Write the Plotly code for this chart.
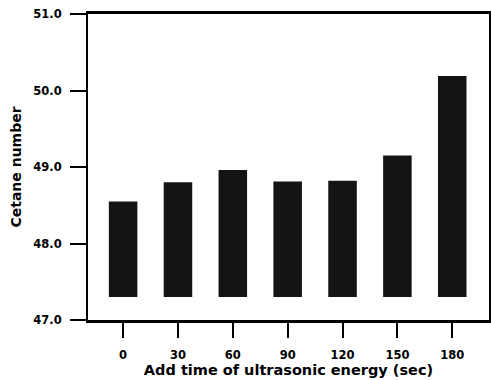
import plotly.graph_objects as go

categories = ["0", "30", "60", "90", "120", "150", "180"]
cetane = [48.55, 48.80, 48.96, 48.81, 48.82, 49.15, 50.19]
bar_base = 47.3
y_ticks = [47.0, 48.0, 49.0, 50.0, 51.0]
y_tick_text = ["<b>47.0</b>", "<b>48.0</b>", "<b>49.0</b>", "<b>50.0</b>", "<b>51.0</b>"]
x_tick_text = ["<b>" + c + "</b>" for c in categories]

FONT = "DejaVu Sans"

fig = go.Figure(
    go.Bar(
        x=categories,
        y=[v - bar_base for v in cetane],
        base=bar_base,
        width=0.52,
        marker=dict(color="#141414", line=dict(width=0)),
    )
)

fig.update_layout(
    width=491,
    height=380,
    margin=dict(l=88, r=2, t=14, b=60),
    paper_bgcolor="white",
    plot_bgcolor="white",
    showlegend=False,
    font=dict(family=FONT, color="black"),
)

fig.update_xaxes(
    type="category",
    range=[-0.64, 6.67],
    tickvals=categories,
    ticktext=x_tick_text,
    showline=True,
    linewidth=2.5,
    linecolor="black",
    mirror=True,
    ticks="outside",
    ticklen=15,
    tickwidth=2,
    tickcolor="black",
    tickfont=dict(family=FONT, size=11.5),
    ticklabelstandoff=7,
    showgrid=False,
    zeroline=False,
    title=dict(text="<b>Add time of ultrasonic energy (sec)</b>", font=dict(family=FONT, size=14.5), standoff=3),
    automargin=False,
)

fig.update_yaxes(
    range=[47.0, 51.0],
    tickvals=y_ticks,
    ticktext=y_tick_text,
    showline=True,
    linewidth=2,
    linecolor="black",
    mirror=True,
    ticks="outside",
    ticklen=16,
    tickwidth=2,
    tickcolor="black",
    tickfont=dict(family=FONT, size=11.5),
    ticklabelstandoff=6,
    showgrid=False,
    zeroline=False,
    title=dict(text="<b>Cetane number</b>", font=dict(family=FONT, size=14), standoff=8),
    automargin=False,
)

fig.write_html("out.html")
